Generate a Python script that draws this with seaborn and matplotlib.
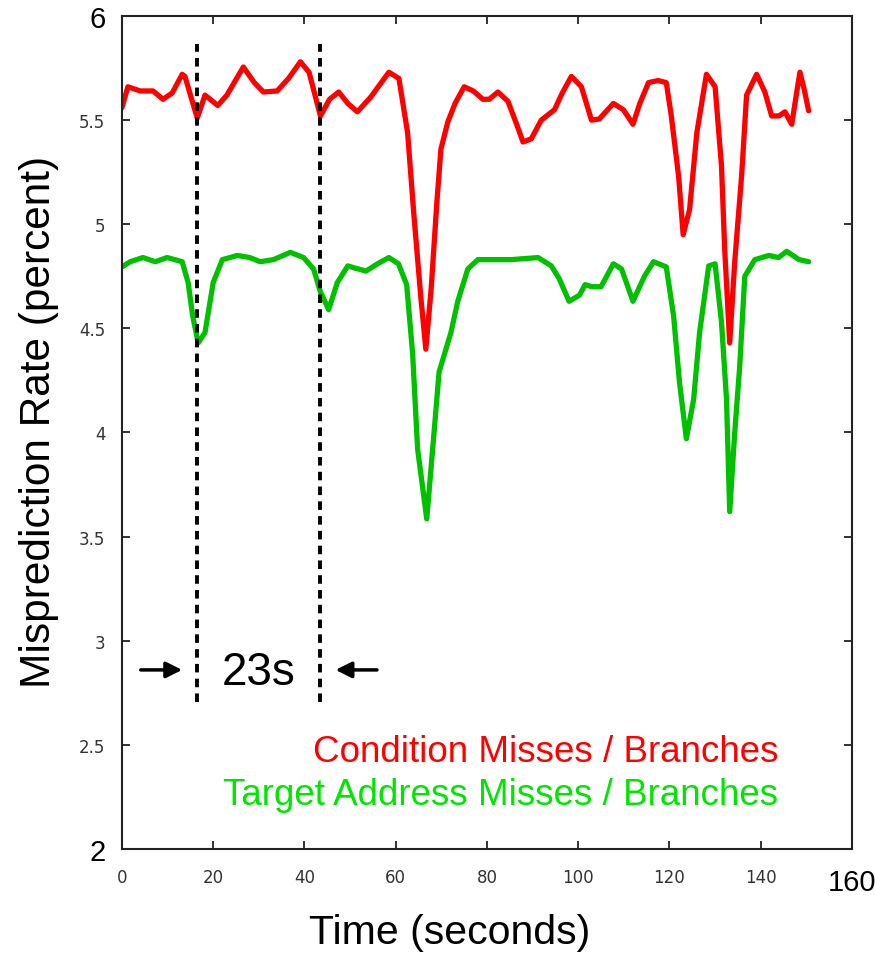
import matplotlib
matplotlib.use("Agg")
import matplotlib.pyplot as plt
import numpy as np
import pandas as pd
import seaborn as sns

# -----------------------------
# Data
# -----------------------------
cond_time = [0, 1.3, 4, 6.8, 9, 11, 13.2, 13.8, 16.5, 18.2, 21, 23, 26.6, 29, 31, 34,
             36.5, 39.1, 41, 43.5, 45.5, 47.5, 49.5, 51.6, 54.5, 58.5, 60.7, 62.6, 64,
             65.5, 66.6, 67.8, 69, 69.9, 71.4, 73, 75, 77, 79.1, 80.5, 82.4, 84.6, 86.5,
             87.9, 89.7, 91.9, 94.8, 96.5, 98.5, 100.7, 102.9, 104.6, 107.7, 109.9, 112,
             113.5, 115.4, 117.5, 119.3, 120.4, 122, 123, 124.4, 126, 128.1, 130, 131.4,
             132.1, 133.2, 134.3, 135.8, 136.9, 139.1, 140.9, 142.4, 144, 145.3, 146.8,
             148.0, 148.6, 149.5, 150.5]
cond_rate = [5.56, 5.66, 5.64, 5.64, 5.60, 5.63, 5.72, 5.71, 5.51, 5.62, 5.57, 5.62, 5.755,
             5.68, 5.635, 5.64, 5.70, 5.78, 5.73, 5.52, 5.60, 5.635, 5.58, 5.54, 5.61, 5.73,
             5.70, 5.44, 5.04, 4.65, 4.40, 4.70, 5.10, 5.36, 5.49, 5.58, 5.66, 5.64, 5.60,
             5.60, 5.635, 5.59, 5.48, 5.395, 5.41, 5.50, 5.55, 5.63, 5.71, 5.66, 5.50, 5.505,
             5.58, 5.55, 5.48, 5.58, 5.68, 5.69, 5.68, 5.52, 5.23, 4.95, 5.07, 5.44, 5.72,
             5.66, 5.28, 4.88, 4.43, 4.82, 5.23, 5.62, 5.72, 5.635, 5.52, 5.52, 5.54, 5.48,
             5.65, 5.73, 5.65, 5.545]

target_time = [0, 1.8, 4.6, 7.3, 9.9, 13.2, 14.5, 15.5, 16.7, 18.2, 20, 22, 25.3, 28, 30.3,
               33.2, 36.9, 39.8, 42, 43.5, 45.3, 47.2, 49.5, 51, 53.5, 56, 58.5, 60.6, 62.4,
               63.7, 64.8, 66.8, 68.4, 69.5, 72.1, 73.6, 75.8, 78, 82.4, 85.3, 91.2, 94.1,
               95.8, 98, 100.3, 101.5, 103, 105, 107.7, 109.5, 112, 114.5, 116.5, 119.3,
               120.9, 122.2, 123.7, 125.3, 126.6, 128.6, 130, 131.4, 132.5, 133.2, 134.3,
               135.4, 136.5, 138.7, 141.8, 143.9, 145.7, 148.4, 150.5]
target_rate = [4.795, 4.82, 4.84, 4.82, 4.84, 4.82, 4.72, 4.56, 4.43, 4.48, 4.72, 4.83, 4.85,
               4.84, 4.82, 4.83, 4.865, 4.84, 4.785, 4.675, 4.59, 4.72, 4.80, 4.79, 4.775,
               4.81, 4.84, 4.81, 4.71, 4.38, 3.92, 3.585, 4.0, 4.29, 4.48, 4.63, 4.785, 4.83,
               4.83, 4.83, 4.84, 4.80, 4.74, 4.63, 4.66, 4.71, 4.70, 4.70, 4.81, 4.785, 4.63,
               4.75, 4.82, 4.795, 4.56, 4.24, 3.97, 4.16, 4.48, 4.80, 4.81, 4.53, 4.16, 3.62,
               4.0, 4.32, 4.75, 4.83, 4.85, 4.84, 4.87, 4.83, 4.82]

series_names = ["Condition Misses / Branches", "Target Address Misses / Branches"]
marker_times = [16.5, 43.5]     # the two dashed period markers
period_label = "23s"

x_ticks = [0, 20, 40, 60, 80, 100, 120, 140, 160]
y_ticks = [2, 2.5, 3, 3.5, 4, 4.5, 5, 5.5, 6]

df = pd.concat([
    pd.DataFrame({"time": cond_time, "rate": cond_rate, "series": series_names[0]}),
    pd.DataFrame({"time": target_time, "rate": target_rate, "series": series_names[1]}),
])

# -----------------------------
# Plot
# -----------------------------
sns.set_theme(style="white")
plt.rcParams["font.family"] = ["Liberation Sans", "DejaVu Sans"]

fig = plt.figure(figsize=(8.75, 9.54), dpi=100)
ax = fig.add_axes([0.1394, 0.109, 0.8343, 0.8732])

line_colors = {series_names[0]: "#ff0000", series_names[1]: "#00c000"}
sns.lineplot(data=df, x="time", y="rate", hue="series", palette=line_colors,
             linewidth=3.8, legend=False, ax=ax, estimator=None, sort=False)

ax.set_xlim(0, 160)
ax.set_ylim(2, 6)

# dashed period markers
ax.vlines(marker_times, 2.705, 5.865, colors="black", linestyles=(0, (2.2, 1.6)),
          linewidth=2.8)

# arrows + label
y_arrow = 2.86
ax.annotate("", xy=(marker_times[0] - 2.7, y_arrow), xytext=(marker_times[0] - 13, y_arrow),
            arrowprops=dict(arrowstyle="-|>", color="black", lw=2.5, mutation_scale=24))
ax.annotate("", xy=(marker_times[1] + 2.7, y_arrow), xytext=(marker_times[1] + 13, y_arrow),
            arrowprops=dict(arrowstyle="-|>", color="black", lw=2.5, mutation_scale=24))
ax.text(sum(marker_times) / 2, y_arrow - 0.01, period_label, ha="center", va="center",
        fontsize=33, color="black")

# in-plot legend text
ax.text(0.899, 0.117, series_names[0], transform=ax.transAxes, ha="right", va="center",
        fontsize=26.5, color="#ff0000")
ax.text(0.899, 0.066, series_names[1], transform=ax.transAxes, ha="right",
        va="center", fontsize=26.5, color="#00e600")

# ticks
ax.set_xticks(x_ticks)
ax.set_yticks(y_ticks)
ax.set_xticklabels([str(t) for t in x_ticks])
ax.set_yticklabels([f"{t:g}" for t in y_ticks])
ax.tick_params(direction="in", length=6, width=1.3, color="#222222",
               top=True, right=True, bottom=True, left=True,
               labelsize=12, labelcolor="#333333")
ax.tick_params(axis="x", pad=14)
ax.tick_params(axis="y", pad=12)
for lbl in ax.get_xticklabels() + ax.get_yticklabels():
    lbl.set_fontfamily("DejaVu Sans")
for lbl in ax.get_xticklabels():
    if lbl.get_text() == "160":
        lbl.set_fontsize(21)
        lbl.set_color("black")
        lbl.set_fontfamily("Liberation Sans")
for lbl in ax.get_yticklabels():
    if lbl.get_text() in ("6", "2"):
        lbl.set_fontsize(21)
        lbl.set_color("black")
        lbl.set_fontfamily("Liberation Sans")

for s in ax.spines.values():
    s.set_color("#222222")
    s.set_linewidth(1.5)

ax.set_xlabel("Time (seconds)", fontsize=29.5, color="black")
ax.set_ylabel("Misprediction Rate (percent)", fontsize=30.5, color="black")
ax.xaxis.set_label_coords(0.449, -0.077)
ax.yaxis.set_label_coords(-0.086, 0.514)

fig.savefig("out.png", dpi=100)
